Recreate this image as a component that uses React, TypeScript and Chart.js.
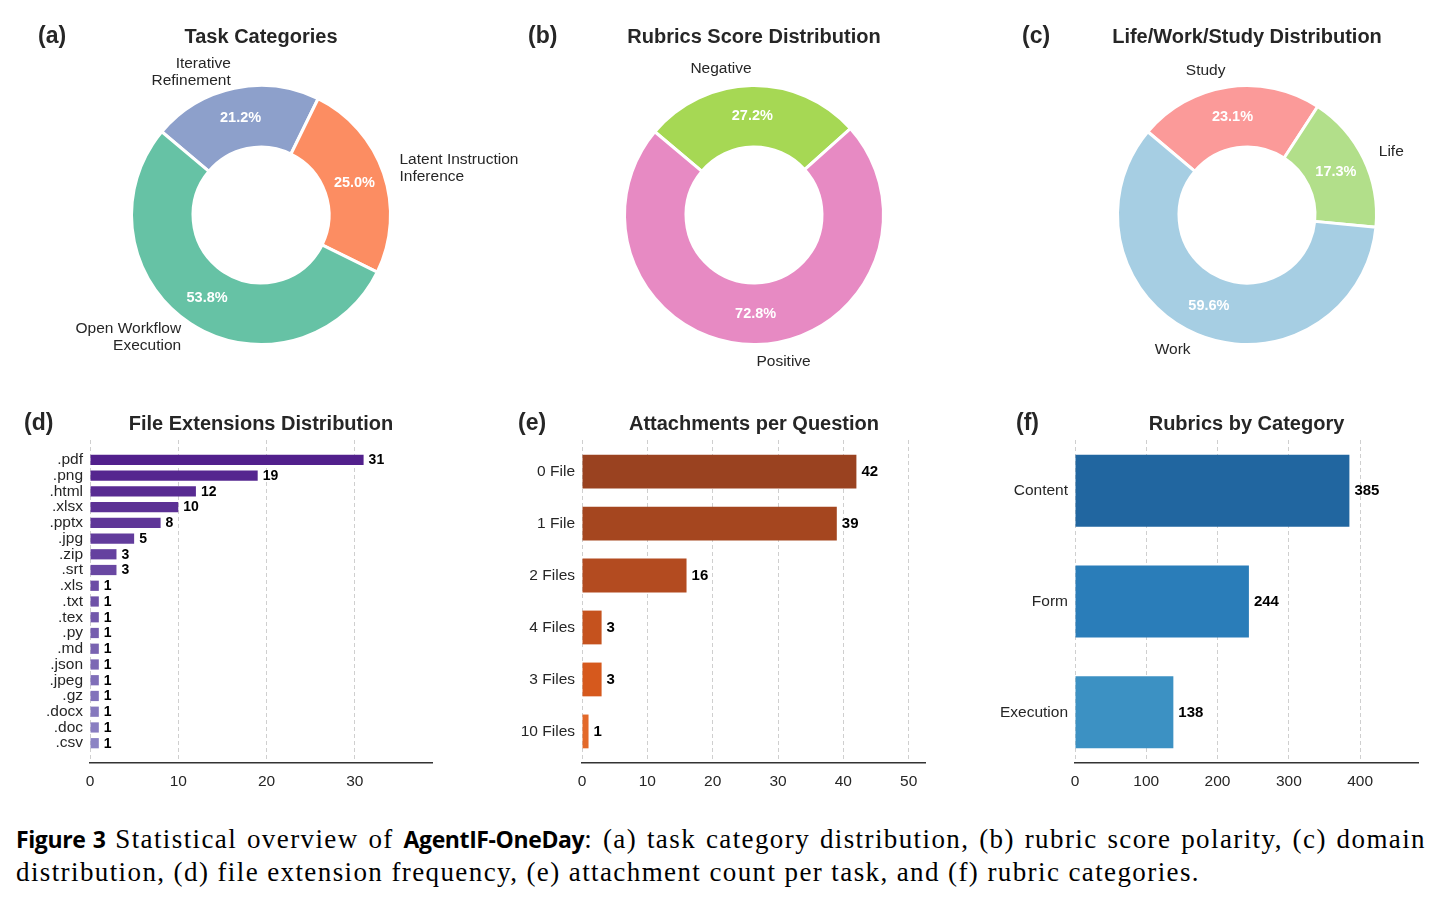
import React, { useEffect, useRef } from "react";
import { Chart, registerables } from "chart.js";

Chart.register(...registerables);

const SANS = '"Liberation Sans", Arial, Helvetica, sans-serif';
const INK = "#262626";

// (a) Task categories (clockwise from the upper-left boundary)
const taskLabels = ["Iterative\nRefinement", "Latent Instruction\nInference", "Open Workflow\nExecution"];
const taskCounts = [22, 26, 56];
const taskColors = ["#8da0cb", "#fc8d62", "#66c2a5"];

// (b) Rubric score polarity
const scoreLabels = ["Negative", "Positive"];
const scoreCounts = [209, 558];
const scoreColors = ["#a6d854", "#e78ac3"];

// (c) Life / Work / Study
const domainLabels = ["Study", "Life", "Work"];
const domainCounts = [24, 18, 62];
const domainColors = ["#fb9a99", "#b2df8a", "#a6cee3"];

// (d) File extensions
const extLabels = [".pdf", ".png", ".html", ".xlsx", ".pptx", ".jpg", ".zip", ".srt", ".xls", ".txt", ".tex", ".py", ".md", ".json", ".jpeg", ".gz", ".docx", ".doc", ".csv"];
const extCounts = [31, 19, 12, 10, 8, 5, 3, 3, 1, 1, 1, 1, 1, 1, 1, 1, 1, 1, 1];
const extTicks = [0, 10, 20, 30];

// (e) Attachments per question
const attachLabels = ["0 File", "1 File", "2 Files", "4 Files", "3 Files", "10 Files"];
const attachCounts = [42, 39, 16, 3, 3, 1];
const attachTicks = [0, 10, 20, 30, 40, 50];
const attachColors = ["#9a4220", "#a5461f", "#b34b20", "#c5521e", "#d6591d", "#e3692a"];

// (f) Rubrics by category
const rubricLabels = ["Content", "Form", "Execution"];
const rubricCounts = [385, 244, 138];
const rubricTicks = [0, 100, 200, 300, 400];
const rubricColors = ["#2166a0", "#2a7db9", "#3c91c3"];

function purpleShade(i: number, n: number): string {
  const t = n > 1 ? i / (n - 1) : 0;
  const a = [82, 32, 140];
  const b = [140, 132, 196];
  const c = a.map((v, k) => Math.round(v + (b[k] - v) * t));
  return `rgb(${c[0]},${c[1]},${c[2]})`;
}
const extColors = extLabels.map((_, i) => purpleShade(i, extLabels.length));

const panelHeader = {
  id: "panelHeader",
  afterDraw(chart: any, _args: any, opts: any) {
    if (!opts || !opts.title) return;
    const ctx = chart.ctx;
    ctx.save();
    ctx.fillStyle = INK;
    ctx.textBaseline = "middle";
    ctx.font = `bold 23px ${SANS}`;
    ctx.textAlign = "left";
    ctx.fillText(opts.letter, opts.letterX, opts.y);
    ctx.font = `bold 20px ${SANS}`;
    ctx.textAlign = "center";
    ctx.fillText(opts.title, opts.titleX, opts.y);
    ctx.restore();
  },
};

const doughnutText = {
  id: "doughnutText",
  afterDatasetsDraw(chart: any) {
    if (chart.config.type !== "doughnut") return;
    const ctx = chart.ctx;
    const meta = chart.getDatasetMeta(0);
    const data = chart.data.datasets[0].data as number[];
    const total = data.reduce((s, v) => s + v, 0);
    ctx.save();
    ctx.textBaseline = "middle";
    meta.data.forEach((arc: any, i: number) => {
      const p = arc.getProps(["x", "y", "startAngle", "endAngle", "outerRadius", "innerRadius"], true);
      const mid = (p.startAngle + p.endAngle) / 2;
      const rp = (p.outerRadius + p.innerRadius) / 2;
      ctx.fillStyle = "#ffffff";
      ctx.font = `bold 14.5px ${SANS}`;
      ctx.textAlign = "center";
      ctx.fillText(((data[i] / total) * 100).toFixed(1) + "%", p.x + Math.cos(mid) * rp, p.y + Math.sin(mid) * rp);
      const rl = p.outerRadius * 1.13;
      const lx = p.x + Math.cos(mid) * rl;
      const ly = p.y + Math.sin(mid) * rl;
      const lines = String(chart.data.labels[i]).split("\n");
      ctx.fillStyle = INK;
      ctx.font = `15.5px ${SANS}`;
      ctx.textAlign = Math.cos(mid) >= 0 ? "left" : "right";
      const lh = 17;
      lines.forEach((ln, k) => ctx.fillText(ln, lx, ly + (k - (lines.length - 1) / 2) * lh));
    });
    ctx.restore();
  },
};

const barValues = {
  id: "barValues",
  afterDatasetsDraw(chart: any, _args: any, opts: any) {
    if (chart.config.type !== "bar") return;
    const ctx = chart.ctx;
    const meta = chart.getDatasetMeta(0);
    ctx.save();
    ctx.fillStyle = "#000";
    ctx.textBaseline = "middle";
    ctx.textAlign = "left";
    ctx.font = `bold ${opts && opts.size ? opts.size : 15}px ${SANS}`;
    meta.data.forEach((bar: any, i: number) => {
      const v = meta._parsed[i].x;
      ctx.fillText(String(v), bar.x + 5, bar.y + 0.5);
    });
    ctx.restore();
  },
};

Chart.register(panelHeader, doughnutText, barValues);

function doughnutConfig(
  labels: string[], counts: number[], colors: string[],
  W: number, H: number, cx: number, letter: string, letterX: number, title: string
): any {
  return {
    type: "doughnut",
    data: {
      labels,
      datasets: [{ data: counts, backgroundColor: colors, borderColor: "#ffffff", borderWidth: 3, hoverOffset: 0 }],
    },
    options: {
      responsive: false,
      animation: false,
      events: [],
      rotation: -50,
      cutout: "52.5%",
      radius: 129.5,
      layout: { padding: { left: cx - 140, right: W - cx - 140, top: 75, bottom: H - 355 } },
      plugins: {
        legend: { display: false },
        tooltip: { enabled: false },
        panelHeader: { letter, letterX, title, titleX: cx, y: 37 },
      },
    },
  };
}

function barConfig(
  labels: string[], values: number[], colors: string[], ticks: number[],
  W: number, yWidth: number, right: number, letter: string, letterX: number, title: string,
  titleX: number, valueSize: number
): any {
  const n = labels.length;
  const half = 0.325;
  const margin = 0.05 * (n - 1 + 2 * half);
  const xMax = Math.max(...values) * 1.25;
  return {
    type: "bar",
    data: {
      labels,
      datasets: [{
        data: values.map((v, i) => ({ x: v, y: i })),
        backgroundColor: colors,
        borderWidth: 0,
        categoryPercentage: 1,
        barPercentage: 0.65,
      }],
    },
    options: {
      responsive: false,
      animation: false,
      events: [],
      indexAxis: "y",
      layout: { padding: { left: 0, right: W - right, top: 45, bottom: 0 } },
      scales: {
        x: {
          type: "linear",
          min: 0,
          max: xMax,
          offset: false,
          afterBuildTicks: (axis: any) => { axis.ticks = ticks.map((v) => ({ value: v })); },
          afterFit: (s: any) => { s.height = 42; },
          grid: { color: "#cfcfcf", lineWidth: 1, drawTicks: false, offset: false },
          border: { display: true, color: "#333333", width: 1.5, dash: [4, 3] },
          ticks: { color: INK, padding: 9, font: { family: SANS, size: 15.5 } },
        },
        y: {
          type: "linear",
          reverse: true,
          offset: false,
          min: -(half + margin),
          max: n - 1 + half + margin,
          afterBuildTicks: (axis: any) => { axis.ticks = labels.map((_, i) => ({ value: i })); },
          afterFit: (s: any) => { s.width = yWidth; },
          grid: { display: false, drawTicks: false, offset: false },
          border: { display: false },
          ticks: {
            autoSkip: false,
            color: INK,
            padding: 7,
            font: { family: SANS, size: 15.5 },
            callback: (_v: any, idx: number) => labels[idx],
          },
        },
      },
      plugins: {
        legend: { display: false },
        tooltip: { enabled: false },
        panelHeader: { letter, letterX, title, titleX, y: 29 },
        barValues: { size: valueSize },
      },
    },
  };
}

function ChartCanvas(props: { left: number; top: number; width: number; height: number; make: () => any }) {
  const ref = useRef<HTMLCanvasElement | null>(null);
  useEffect(() => {
    const chart = new Chart(ref.current as HTMLCanvasElement, props.make());
    return () => chart.destroy();
  }, []);
  return (
    <canvas
      ref={ref}
      width={props.width}
      height={props.height}
      style={{ position: "absolute", left: props.left, top: props.top, width: props.width, height: props.height }}
    />
  );
}

const SERIF = '"Liberation Serif", "Times New Roman", serif';
const CAPSANS = '"Open Sans", "Noto Sans", sans-serif';

export default function App() {
  const capSans: React.CSSProperties = { fontFamily: CAPSANS, fontWeight: 700, fontSize: 23, letterSpacing: "-0.4px" };
  return (
    <div style={{ position: "absolute", left: 0, top: 0, width: 1442, height: 904, background: "#ffffff", overflow: "hidden" }}>
      <ChartCanvas left={0} top={0} width={570} height={395}
        make={() => doughnutConfig(taskLabels, taskCounts, taskColors, 570, 395, 261, "(a)", 38, "Task Categories")} />
      <ChartCanvas left={490} top={0} width={500} height={395}
        make={() => doughnutConfig(scoreLabels, scoreCounts, scoreColors, 500, 395, 264, "(b)", 38, "Rubrics Score Distribution")} />
      <ChartCanvas left={980} top={0} width={462} height={395}
        make={() => doughnutConfig(domainLabels, domainCounts, domainColors, 462, 395, 267, "(c)", 42, "Life/Work/Study Distribution")} />
      <ChartCanvas left={0} top={395} width={490} height={410}
        make={() => barConfig(extLabels, extCounts, extColors, extTicks, 490, 90, 432, "(d)", 24, "File Extensions Distribution", 261, 14)} />
      <ChartCanvas left={490} top={395} width={490} height={410}
        make={() => barConfig(attachLabels, attachCounts, attachColors, attachTicks, 490, 92, 435, "(e)", 28, "Attachments per Question", 264, 15)} />
      <ChartCanvas left={980} top={395} width={462} height={410}
        make={() => barConfig(rubricLabels, rubricCounts, rubricColors, rubricTicks, 462, 95, 438, "(f)", 36, "Rubrics by Category", 266.5, 15)} />
      <div style={{ position: "absolute", left: 16, top: 823, width: 1410, fontFamily: SERIF, fontSize: 27, letterSpacing: "1.4px", lineHeight: "33px", color: "#000" }}>
        <div style={{ textAlign: "justify", textAlignLast: "justify", whiteSpace: "nowrap" }}>
          <span style={capSans}>Figure 3</span>
          {"  Statistical overview of "}
          <span style={capSans}>AgentIF-OneDay</span>
          {": (a) task category distribution, (b) rubric score polarity, (c) domain"}
        </div>
        <div>distribution, (d) file extension frequency, (e) attachment count per task, and (f) rubric categories.</div>
      </div>
    </div>
  );
}
